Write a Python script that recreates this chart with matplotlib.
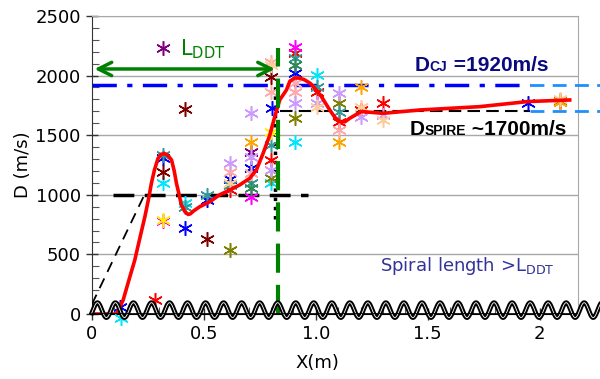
import numpy as np
import matplotlib
matplotlib.use('Agg')
import matplotlib.pyplot as plt
from matplotlib.ticker import MultipleLocator, FixedLocator, FixedFormatter
from matplotlib.transforms import offset_copy

# ---------------- data ----------------
xticks = [0, 0.5, 1.0, 1.5, 2.0]
xtick_labels = ['0', '0.5', '1.0', '1.5', '2']
yticks = [0, 500, 1000, 1500, 2000, 2500]

# fitted (red) curve
curve_x = [0.0, 0.11, 0.14, 0.165, 0.192, 0.215, 0.237, 0.255, 0.266, 0.28, 0.296, 0.31,
           0.326, 0.342, 0.356, 0.368, 0.378, 0.39, 0.40, 0.415, 0.43, 0.44, 0.455, 0.482,
           0.527, 0.571, 0.616, 0.66, 0.705, 0.735, 0.765, 0.795, 0.817, 0.839, 0.869,
           0.884, 0.906, 0.93, 0.951, 0.975, 0.996, 1.025, 1.0625, 1.085, 1.107, 1.13,
           1.152, 1.204, 1.256, 1.30, 1.464, 1.732, 1.948, 2.134]
curve_y = [0, 0, 117, 280, 453, 640, 816, 980, 1096, 1210, 1306, 1340,
           1345, 1325, 1292, 1200, 1096, 1000, 914, 860, 835, 840, 865, 900,
           942, 1000, 1040, 1082, 1138, 1208, 1348, 1502, 1656, 1795, 1879,
           1951, 1980, 1978, 1963, 1935, 1893, 1824, 1711, 1650, 1614, 1612,
           1642, 1698, 1690, 1683, 1711, 1739, 1782, 1795]

# measurements, one list per colour
meas = {
    '#0000ff': ([0.125, 0.316, 0.418, 0.515, 0.616, 0.713, 0.805, 0.906, 1.948],
                [60, 1306, 719, 956, 1130, 1222, 1730, 2018, 1767]),
    '#00e5ff': ([0.13, 0.316, 0.418, 0.80, 0.906, 1.007],
                [-30, 1096, 935, 1100, 1443, 2005]),
    '#ff0000': ([0.28, 0.616, 0.80, 0.906, 1.007, 1.104, 1.204, 1.30, 2.09],
                [117, 1040, 1292, 2193, 1866, 1614, 1711, 1767, 1782]),
    '#800000': ([0.316, 0.415, 0.515, 0.80],
                [1194, 1717, 627, 1990]),
    '#800080': ([0.316, 0.713], [2231, 1362]),
    '#ff00ff': ([0.316, 0.713, 0.906], [780, 984, 2243]),
    '#808000': ([0.616, 0.80, 0.906, 1.104, 2.09], [537, 1139, 1642, 1767, 1795]),
    '#ffa500': ([0.713, 1.104, 1.204, 2.09], [1446, 1446, 1907, 1775]),
    '#339999': ([0.316, 0.418, 0.515, 0.616, 0.713, 0.80, 0.906, 1.007, 1.104],
                [1334, 900, 998, 1080, 1096, 1418, 2145, 1900, 1698]),
    '#2e8b57': ([0.713, 0.906], [1055, 2090]),
    '#ffaaaa': ([0.616, 0.713, 0.80, 0.80, 0.906, 0.906, 1.104],
                [1194, 1180, 1866, 2117, 1935, 1866, 1544]),
    '#cc99ff': ([0.616, 0.713, 0.713, 0.80, 0.906, 1.007, 1.104, 1.204, 1.30],
                [1270, 1683, 1320, 1210, 1767, 1767, 1851, 1655, 1669]),
    '#ffcc99': ([0.616, 0.80, 1.007, 1.204, 1.30, 2.09],
                [1100, 2090, 1740, 1740, 1627, 1805]),
    '#ffee00': ([0.316, 0.80], [789, 1530]),
}

D_CJ = 1920
D_SPIRE = 1700
L_DDT = 0.832

# spiral schematic
spiral_period = 0.0805
spiral_first_peak = 0.025
spiral_low, spiral_high = -30, 95

# ---------------- figure ----------------
fig = plt.figure(figsize=(6, 3.79), dpi=100)
ax = fig.add_axes([0.153, 0.1715, 0.81, 0.7865])
ax.set_xlim(0, 2.17)
ax.set_ylim(0, 2500)

ax.yaxis.set_major_locator(FixedLocator(yticks))
ax.yaxis.set_minor_locator(MultipleLocator(100))
ax.xaxis.set_major_locator(FixedLocator(xticks))
ax.xaxis.set_major_formatter(FixedFormatter(xtick_labels))
ax.xaxis.set_minor_locator(MultipleLocator(0.1))
ax.tick_params(which='major', direction='inout', length=9, width=1, labelsize=13, color='#333333')
ax.tick_params(which='minor', direction='in', length=5, width=0.8, color='#555555')
ax.tick_params(axis='x', which='both', top=False)
ax.tick_params(axis='y', which='both', right=False)
ax.yaxis.grid(True, color='#a8a8a8', lw=1)
ax.set_axisbelow(True)
for s in ['top', 'right']:
    ax.spines[s].set_color('#a8a8a8')
ax.spines['left'].set_color('#333333')
ax.spines['bottom'].set_color('black')
ax.set_xlabel('X(m)', fontsize=13)
ax.xaxis.set_label_coords(0.465, -0.135)
ax.set_ylabel('D (m/s)', fontsize=13, labelpad=2)

green = '#008000'

# reference lines
ax.plot([0, 1.955], [D_CJ, D_CJ], color='#0000ff', lw=2.5, dashes=(7, 3, 1.5, 3), zorder=3)
ax.plot([1.955, 2.27], [D_CJ, D_CJ], color='#1e8fff', lw=2, dashes=(5, 3), clip_on=False, zorder=3)
ax.plot([0.84, 1.955], [D_SPIRE, D_SPIRE], color='black', lw=1.5, dashes=(6, 3), zorder=3)
ax.plot([1.955, 2.27], [D_SPIRE, D_SPIRE], color='#1e8fff', lw=2, dashes=(5, 3), clip_on=False, zorder=3)
ax.plot([0.094, 0.964], [1000, 1000], color='black', lw=2.5, dashes=(6, 3), zorder=3)
ax.plot([0.0, 0.235], [80, 1000], color='black', lw=1.3, dashes=(6, 4), zorder=3)
ax.plot([0.817, 0.817], [800, 1920], color='black', lw=2.5, ls=':', zorder=3)
ax.plot([L_DDT, L_DDT], [0, 2230], color=green, lw=3, dashes=(7, 2.9), zorder=6)

# L_DDT arrow
ax.annotate('', xy=(0.012, 2055), xytext=(0.818, 2055),
            arrowprops=dict(arrowstyle='<->', color=green, lw=2.5,
                            mutation_scale=24, shrinkA=0, shrinkB=0), zorder=6)

# measurements
for c, (xs, ys) in meas.items():
    ax.plot(xs, ys, ls='none', marker=(6, 2, 0), ms=10.5, mew=1.1, color=c,
            clip_on=False, zorder=4)

# fitted curve
ax.plot(curve_x, curve_y, color='#ff0000', lw=2.6, zorder=5, solid_joinstyle='round')

# spiral schematic
xs = np.linspace(0, 2.27, 1200)
mid = (spiral_low + spiral_high) / 2
amp = (spiral_high - spiral_low) / 2
ys = mid + amp * np.cos(2 * np.pi * (xs - spiral_first_peak) / spiral_period)
ax.plot(xs, ys, color='black', lw=3.4, clip_on=False, zorder=7)
ax.plot(xs, ys, color='white', lw=0.6, clip_on=False, zorder=7)
ax.axhline(0, color='black', lw=1.2, zorder=7)

# texts
renderer = fig.canvas.get_renderer()


def seq_text(x, y, parts, **kw):
    dx = 0
    for s, fs in parts:
        t = ax.text(x, y, s, fontsize=fs, va='baseline', ha='left',
                    transform=offset_copy(ax.transData, fig=fig, x=dx, y=0, units='dots'),
                    **kw)
        dx += t.get_window_extent(renderer).width


seq_text(1.442, 2041, [('D', 15), ('CJ', 10), (' =1920m/s', 15)],
         color='#0a0a80', fontweight='bold', family='Liberation Sans', zorder=8)
seq_text(1.42, 1502, [('D', 15), ('SPIRE', 10), (' ~1700m/s', 15)],
         color='black', fontweight='bold', family='Liberation Sans', zorder=8)
ax.text(0.393, 2173, r'L$_{\mathregular{DDT}}$', color=green, fontsize=15,
        va='baseline', ha='left', zorder=8)
ax.text(1.286, 363, r'Spiral length >L$_{\mathregular{DDT}}$', color='#333399',
        fontsize=13, va='baseline', ha='left', zorder=8)

fig.savefig('out.png', dpi=100)
